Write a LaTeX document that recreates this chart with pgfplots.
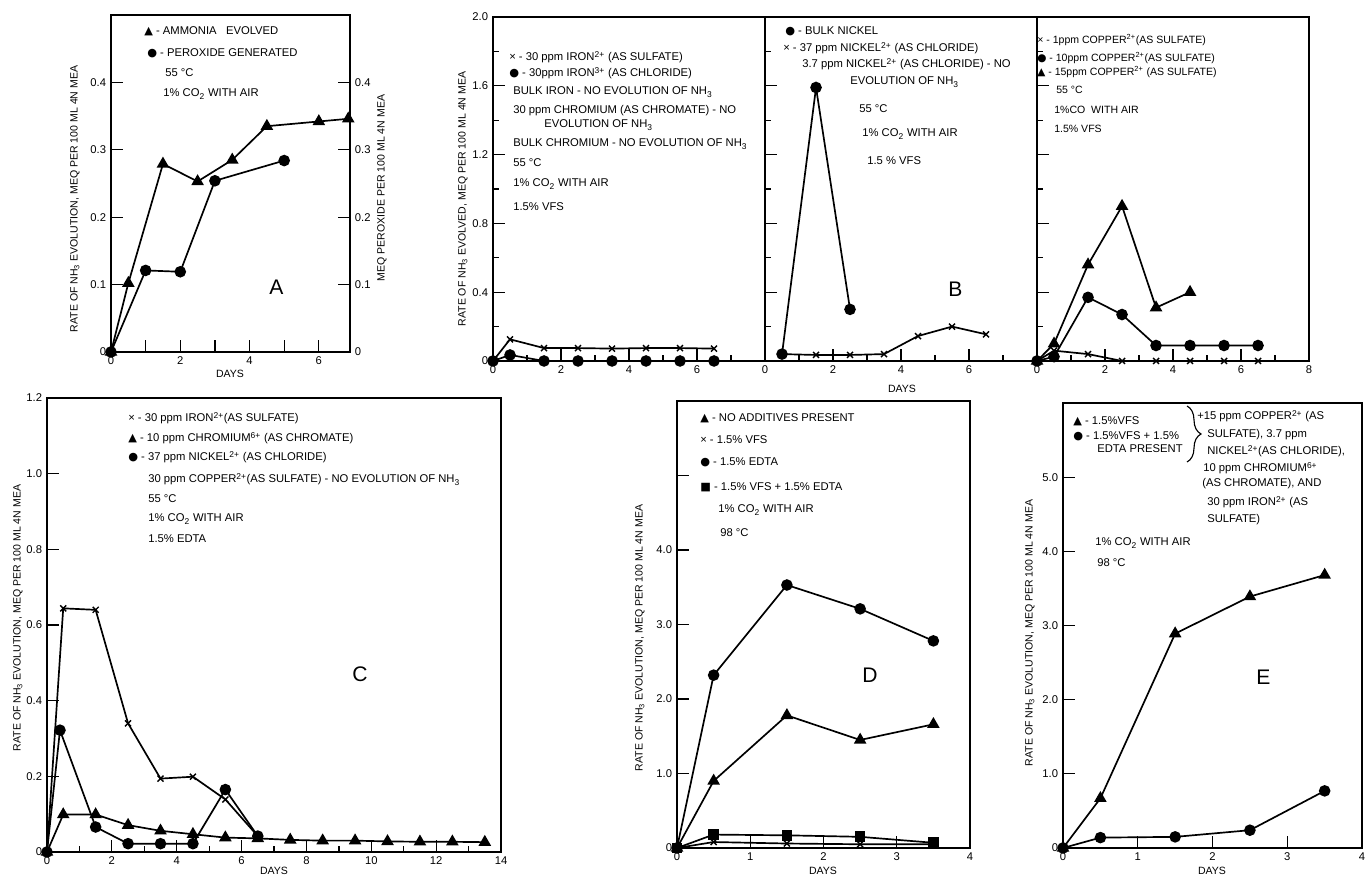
\documentclass[border=0pt]{standalone}
\usepackage{fontspec}
\setmainfont{Liberation Sans}
\newfontfamily\sym{DejaVu Sans}
\usepackage{pgfplots}
\pgfplotsset{compat=1.18}
\usetikzlibrary{decorations.pathreplacing}

\pgfplotsset{
  panel/.style={
    scale only axis, clip=false,
    axis line style={line width=1.3pt},
    tick style={line width=0.9pt, black},
    major tick length=3mm, minor tick length=1.6mm,
    tick pos=left, tick align=inside,
    every tick label/.append style={font=\fontsize{8}{9}\selectfont},
  },
  ln/.style={black, line width=1.2pt},
  tri/.style={ln, mark=triangle*, mark size=4pt, mark options={solid, fill=black}},
  dot/.style={ln, mark=*, mark size=3.5pt, mark options={solid, fill=black}},
  crs/.style={ln, mark=x, mark size=3pt, mark options={solid, line width=1pt}},
  sqr/.style={ln, mark=square*, mark size=3.2pt, mark options={solid, fill=black}},
}
\newcommand\T[4][8]{\node[anchor=base west,inner sep=0pt,font=\fontsize{#1}{#1}\selectfont] at (#2,877-#3) {#4};}
\newcommand\PL[3]{\node[anchor=base west,inner sep=0pt,font=\fontsize{15}{15}\selectfont] at (#1,877-#2) {#3};}
\newcommand\YL[3]{\node[rotate=90,inner sep=0pt,font=\fontsize{7.5}{7.5}\selectfont] at (#1,877-#2) {#3};}
\newcommand\DL[2]{\node[anchor=base,inner sep=0pt,font=\fontsize{7.5}{7.5}\selectfont] at (#1,877-#2) {DAYS};}

\begin{document}
\begin{tikzpicture}[x=0.25mm,y=0.25mm]

% ---------------- A ----------------
\begin{axis}[panel, at={(27.75mm,131.25mm)}, width=59.75mm, height=84.25mm,
  xmin=0, xmax=6.9, ymin=0, ymax=0.5,
  xtick={0,...,6}, xticklabels={0,,2,,4,,6},
  ytick={0,0.1,0.2,0.3,0.4}, yticklabels={0,0.1,0.2,0.3,0.4}]
\addplot[tri] coordinates {(0,0) (0.5,0.102) (1.5,0.279) (2.5,0.253) (3.5,0.285) (4.5,0.335) (6,0.342) (6.85,0.346)};
\addplot[dot] coordinates {(0,0) (1,0.121) (2,0.119) (3,0.254) (5,0.284)};
\end{axis}
\begin{axis}[panel, at={(27.75mm,131.25mm)}, width=59.75mm, height=84.25mm,
  xmin=0, xmax=6.9, ymin=0, ymax=0.5, hide x axis, ytick pos=right,
  ytick={0,0.1,0.2,0.3,0.4}, yticklabels={0,0.1,0.2,0.3,0.4}]
\end{axis}

% ---------------- B ----------------
\begin{axis}[panel, at={(123.25mm,129mm)}, width=68mm, height=86mm,
  xmin=0, xmax=8, ymin=0, ymax=2,
  xtick={0,2,4,6,8}, minor xtick={1,3,5,7}, xticklabels={0,2,4,6,},
  ytick={0,0.4,0.8,1.2,1.6,2.0}, yticklabels={0,0.4,0.8,1.2,1.6,2.0},
  minor ytick={0.2,0.6,1.0,1.4,1.8}]
\addplot[crs] coordinates {(0,0) (0.5,0.126) (1.5,0.075) (2.5,0.075) (3.5,0.072) (4.5,0.075) (5.5,0.075) (6.5,0.072)};
\addplot[dot] coordinates {(0,0) (0.5,0.035) (1.5,0) (2.5,0) (3.5,0) (4.5,0) (5.5,0) (6.5,0)};
\end{axis}
\begin{axis}[panel, at={(191.25mm,129mm)}, width=68mm, height=86mm,
  xmin=0, xmax=8, ymin=0, ymax=2,
  xtick={0,2,4,6,8}, minor xtick={1,3,5,7}, xticklabels={0,2,4,6,},
  ytick={0,0.4,0.8,1.2,1.6,2.0}, yticklabels={},
  minor ytick={0.2,0.6,1.0,1.4,1.8}]
\addplot[dot] coordinates {(0.5,0.04) (1.5,1.59) (2.5,0.30)};
\addplot[crs] coordinates {(0.5,0.04) (1.5,0.035) (2.5,0.035) (3.5,0.04) (4.5,0.145) (5.5,0.20) (6.5,0.155)};
\end{axis}
\begin{axis}[panel, at={(259.25mm,129mm)}, width=68mm, height=86mm,
  xmin=0, xmax=8, ymin=0, ymax=2,
  xtick={0,2,4,6,8}, minor xtick={1,3,5,7}, xticklabels={0,2,4,6,8},
  ytick={0,0.4,0.8,1.2,1.6,2.0}, yticklabels={},
  minor ytick={0.2,0.6,1.0,1.4,1.8}]
\addplot[tri] coordinates {(0,0) (0.5,0.10) (1.5,0.56) (2.5,0.90) (3.5,0.31) (4.5,0.40)};
\addplot[dot] coordinates {(0,0) (0.5,0.025) (1.5,0.37) (2.5,0.27) (3.5,0.09) (4.5,0.09) (5.5,0.09) (6.5,0.09)};
\addplot[crs] coordinates {(0,0) (0.5,0.06) (1.5,0.04) (2.5,0) (3.5,0) (4.5,0) (5.5,0) (6.5,0)};
\end{axis}

% ---------------- C ----------------
\begin{axis}[panel, at={(11.75mm,6.25mm)}, width=113.5mm, height=113.5mm,
  xmin=0, xmax=14, ymin=0, ymax=1.2,
  xtick={0,2,...,14}, minor xtick={1,3,...,13}, xticklabels={0,2,4,6,8,10,12,14},
  ytick={0,0.2,0.4,0.6,0.8,1.0,1.2}, yticklabels={0,0.2,0.4,0.6,0.8,1.0,1.2}]
\addplot[crs] coordinates {(0,0) (0.5,0.644) (1.5,0.64) (2.5,0.34) (3.5,0.194) (4.5,0.199) (5.5,0.139) (6.5,0.042)};
\addplot[dot] coordinates {(0,0) (0.4,0.322) (1.5,0.066) (2.5,0.022) (3.5,0.022) (4.5,0.022) (5.5,0.165) (6.5,0.042)};
\addplot[tri] coordinates {(0,0) (0.5,0.099) (1.5,0.099) (2.5,0.071) (3.5,0.056) (4.5,0.047) (5.5,0.038) (6.5,0.036) (7.5,0.032) (8.5,0.03) (9.5,0.03) (10.5,0.028) (11.5,0.027) (12.5,0.027) (13.5,0.026)};
\end{axis}

% ---------------- D ----------------
\begin{axis}[panel, at={(169.25mm,7.25mm)}, width=73.25mm, height=111.75mm,
  xmin=0, xmax=4, ymin=0, ymax=6,
  xtick={0,1,2,3,4}, xticklabels={0,1,2,3,4},
  ytick={0,1,2,3,4,5}, yticklabels={0,1.0,2.0,3.0,4.0,}]
\addplot[dot] coordinates {(0,0) (0.5,2.32) (1.5,3.53) (2.5,3.21) (3.5,2.78)};
\addplot[tri] coordinates {(0,0) (0.5,0.90) (1.5,1.78) (2.5,1.45) (3.5,1.66)};
\addplot[sqr] coordinates {(0,0) (0.5,0.18) (1.5,0.17) (2.5,0.15) (3.5,0.07)};
\addplot[crs] coordinates {(0,0) (0.5,0.08) (1.5,0.06) (2.5,0.05) (3.5,0.05)};
\end{axis}

% ---------------- E ----------------
\begin{axis}[panel, at={(265.75mm,7.25mm)}, width=74.75mm, height=111.25mm,
  xmin=0, xmax=4, ymin=0, ymax=6,
  xtick={0,1,2,3,4}, xticklabels={0,1,2,3,4},
  ytick={0,1,2,3,4,5}, yticklabels={0,1.0,2.0,3.0,4.0,5.0}]
\addplot[tri] coordinates {(0,0) (0.5,0.67) (1.5,2.89) (2.5,3.39) (3.5,3.68)};
\addplot[dot] coordinates {(0,0) (0.5,0.14) (1.5,0.15) (2.5,0.24) (3.5,0.77)};
\end{axis}

% ---------------- texts ----------------
% A
\T{144}{35}{{\sym ▲} - AMMONIA\ \ \ EVOLVED}
\T{147}{57}{{\sym ●} - PEROXIDE GENERATED}
\T{165}{77}{55 °C}
\T{163}{97}{1\% CO\textsubscript{2} WITH AIR}
\PL{269}{295}{A}
\YL{75}{199}{RATE OF NH\textsubscript{3} EVOLUTION, MEQ PER 100 ML 4N MEA}
\YL{382}{188}{MEQ PEROXIDE PER 100 ML 4N MEA}
\DL{230}{378}
% B
\T{509}{61}{× - 30 ppm IRON\textsuperscript{2+} (AS SULFATE)}
\T{509}{77}{{\sym ●} - 30ppm IRON\textsuperscript{3+} (AS CHLORIDE)}
\T{513}{95}{BULK IRON - NO EVOLUTION OF NH\textsubscript{3}}
\T{513}{114}{30 ppm CHROMIUM (AS CHROMATE) - NO}
\T{544}{128}{EVOLUTION OF NH\textsubscript{3}}
\T{513}{147}{BULK CHROMIUM - NO EVOLUTION OF NH\textsubscript{3}}
\T{513}{167}{55 °C}
\T{513}{187}{1\% CO\textsubscript{2} WITH AIR}
\T{513}{211}{1.5\% VFS}
\T{785}{35}{{\sym ●} - BULK NICKEL}
\T{783}{52}{× - 37 ppm NICKEL\textsuperscript{2+} (AS CHLORIDE)}
\T{802}{68}{3.7 ppm NICKEL\textsuperscript{2+} (AS CHLORIDE) - NO}
\T{850}{85}{EVOLUTION OF NH\textsubscript{3}}
\T{859}{113}{55 °C}
\T{862}{137}{1\% CO\textsubscript{2} WITH AIR}
\T{867}{165}{1.5 \% VFS}
\PL{948}{297}{B}
\T[7.5]{1037}{44}{× - 1ppm COPPER\textsuperscript{2+}(AS SULFATE)}
\T[7.5]{1037}{62}{{\sym ●} - 10ppm COPPER\textsuperscript{2+}(AS SULFATE)}
\T[7.5]{1037}{76}{{\sym ▲} - 15ppm COPPER\textsuperscript{2+} (AS SULFATE)}
\T[7.5]{1056}{94}{55 °C}
\T[7.5]{1054}{114}{1\%CO \ WITH AIR}
\T[7.5]{1054}{133}{1.5\% VFS}
\YL{463}{199}{RATE OF NH\textsubscript{3} EVOLVED, MEQ PER 100 ML 4N MEA}
\DL{902}{393}
% C
\T{128}{422}{× - 30 ppm IRON\textsuperscript{2+}(AS SULFATE)}
\T{128}{442}{{\sym ▲} - 10 ppm CHROMIUM\textsuperscript{6+} (AS CHROMATE)}
\T{128}{461}{{\sym ●} - 37 ppm NICKEL\textsuperscript{2+} (AS CHLORIDE)}
\T{148}{483}{30 ppm COPPER\textsuperscript{2+}(AS SULFATE) - NO EVOLUTION OF NH\textsubscript{3}}
\T{148}{503}{55 °C}
\T{148}{522}{1\% CO\textsubscript{2} WITH AIR}
\T{148}{543}{1.5\% EDTA}
\PL{352}{682}{C}
\YL{18}{618}{RATE OF NH\textsubscript{3} EVOLUTION, MEQ PER 100 ML 4N MEA}
\DL{274}{875}
% D
\T{700}{422}{{\sym ▲} - NO ADDITIVES PRESENT}
\T{700}{444}{× - 1.5\% VFS}
\T{700}{466}{{\sym ●} - 1.5\% EDTA}
\T{700}{491}{{\sym ■} - 1.5\% VFS + 1.5\% EDTA}
\T{718}{513}{1\% CO\textsubscript{2} WITH AIR}
\T{720}{537}{98 °C}
\PL{862}{683}{D}
\YL{640}{638}{RATE OF NH\textsubscript{3} EVOLUTION, MEQ PER 100 ML 4N MEA}
\DL{823}{875}
% E
\T{1073}{425}{{\sym ▲} - 1.5\%VFS}
\T{1073}{440}{{\sym ●} - 1.5\%VFS + 1.5\%}
\T{1097}{453}{EDTA PRESENT}
\draw[line width=0.8pt, decorate, decoration={brace, amplitude=3.5mm}] (1187,877-406) -- (1187,877-462);
\T{1197}{420}{+15 ppm COPPER\textsuperscript{2+} (AS}
\T{1207}{438}{SULFATE), 3.7 ppm}
\T{1207}{455}{NICKEL\textsuperscript{2+}(AS CHLORIDE),}
\T{1203}{472}{10 ppm CHROMIUM\textsuperscript{6+}}
\T{1202}{487}{(AS CHROMATE), AND}
\T{1207}{506}{30 ppm IRON\textsuperscript{2+} (AS}
\T{1207}{523}{SULFATE)}
\T{1095}{546}{1\% CO\textsubscript{2} WITH AIR}
\T{1097}{567}{98 °C}
\PL{1256}{685}{E}
\YL{1030}{633}{RATE OF NH\textsubscript{3} EVOLUTION, MEQ PER 100 ML 4N MEA}
\DL{1212}{875}

\pgfresetboundingbox
\path[use as bounding box] (0,0) rectangle (1365,877);
\end{tikzpicture}
\end{document}
